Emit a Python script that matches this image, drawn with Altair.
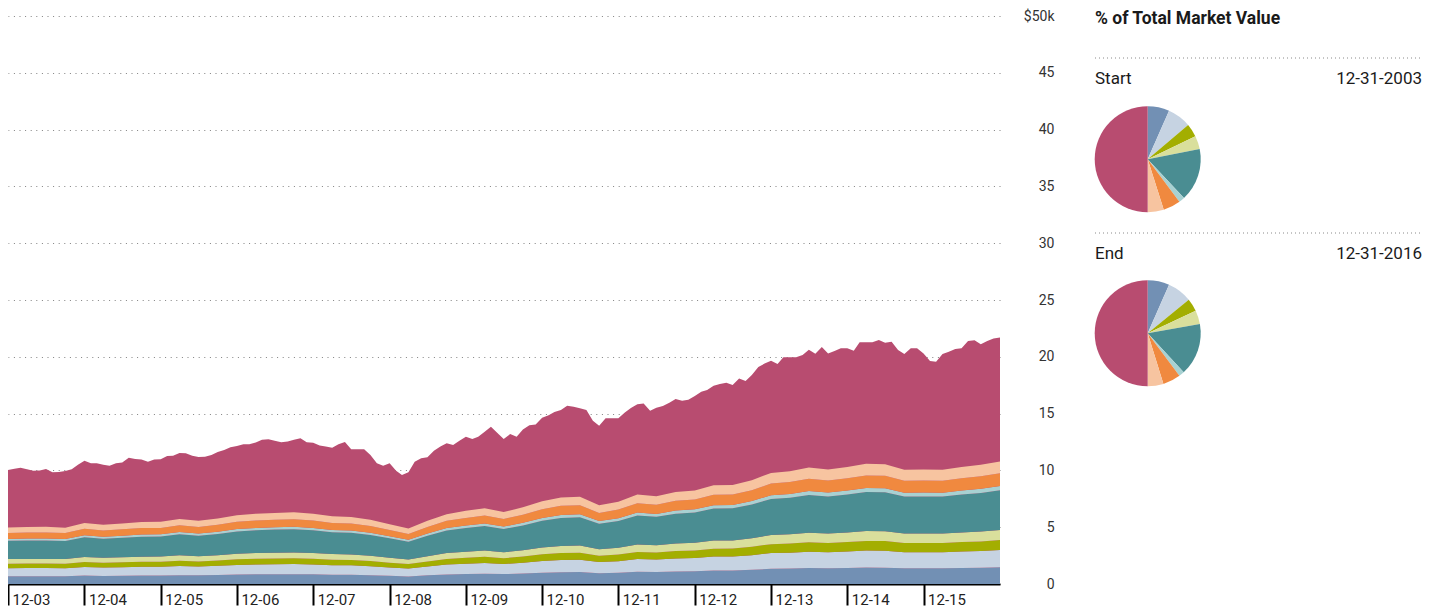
import altair as alt
import pandas as pd

# ---------------- data ----------------
SERIES = ["Asset 1", "Asset 2", "Asset 3", "Asset 4", "Asset 5",
          "Asset 6", "Asset 7", "Asset 8", "Asset 9"]
COLORS = ["#7290b4", "#c6d3e2", "#a3ae00", "#d9df9c", "#4a8d92",
          "#a8d1d2", "#f0893f", "#f7c4a0", "#b84c70"]

# total market value ($k), month ends 12-2003 .. 12-2016
TOTAL = [10.03, 10.15, 10.24, 10.1, 9.97, 10.0, 10.12, 9.83, 9.85, 9.95, 10.1, 10.5,
         10.85, 10.62, 10.62, 10.5, 10.42, 10.62, 10.7, 11.12, 11.0, 10.95, 10.77, 10.95,
         10.98, 11.27, 11.3, 11.53, 11.5, 11.3, 11.18, 11.2, 11.35, 11.62, 11.8, 12.03,
         12.15, 12.3, 12.3, 12.45, 12.7, 12.74, 12.6, 12.47, 12.55, 12.7, 12.83, 12.47,
         12.44, 12.2, 12.1, 12.0, 12.3, 12.5, 11.86, 11.86, 11.86, 11.36, 10.62, 10.42,
         10.62, 9.97, 9.6, 9.83, 10.77, 11.06, 11.15, 11.74, 12.1, 12.38, 12.23, 12.6,
         12.97, 12.76, 12.97, 13.4, 13.85, 13.3, 12.76, 13.2, 12.97, 13.6, 13.97, 14.03,
         14.64, 14.85, 15.14, 15.32, 15.7, 15.6, 15.46, 15.32, 14.38, 13.94, 14.58, 14.58,
         14.58, 15.1, 15.5, 15.82, 15.9, 15.26, 15.52, 15.67, 15.95, 16.28, 16.14, 16.23,
         16.55, 16.93, 17.08, 17.46, 17.6, 17.72, 17.52, 18.1, 17.87, 18.4, 19.1, 19.4,
         19.66, 19.37, 19.96, 19.96, 19.96, 20.16, 20.63, 20.27, 20.86, 20.3, 20.5, 20.75,
         20.75, 20.54, 21.28, 21.28, 21.28, 21.48, 21.24, 21.33, 20.6, 20.25, 20.75, 20.75,
         20.3, 19.63, 19.57, 20.25, 20.45, 20.69, 20.75, 21.39, 21.45, 21.1, 21.39, 21.6,
         21.7]

# lower holdings, quarter ends 12-2003 .. 12-2016
A1 = [.68, .69, .69, .68, .74, .71, .73, .74, .75, .78, .76, .79, .83, .85, .86, .86, .85, .82,
      .81, .77, .72, .67, .76, .84, .88, .91, .87, .92, 1.00, 1.04, 1.05, .95, .99, 1.08, 1.06,
      1.11, 1.13, 1.19, 1.19, 1.25, 1.34, 1.36, 1.40, 1.38, 1.41, 1.45, 1.44, 1.38, 1.38, 1.38,
      1.41, 1.43, 1.48]
A2 = [.70, .71, .71, .70, .76, .74, .75, .77, .77, .81, .78, .81, .85, .87, .88, .89, .87, .84,
      .83, .80, .74, .69, .78, .87, .91, .94, .89, .95, 1.02, 1.07, 1.08, .98, 1.02, 1.11, 1.09,
      1.14, 1.16, 1.22, 1.23, 1.29, 1.38, 1.40, 1.44, 1.42, 1.45, 1.49, 1.49, 1.42, 1.42, 1.42,
      1.45, 1.48, 1.52]
A3 = [.40, .40, .40, .40, .43, .42, .43, .44, .44, .46, .45, .46, .49, .50, .50, .51, .50, .48,
      .47, .45, .42, .39, .45, .50, .52, .54, .51, .54, .59, .61, .62, .56, .58, .63, .62, .65,
      .66, .70, .70, .74, .79, .80, .83, .81, .83, .85, .85, .81, .81, .81, .83, .84, .87]
A4 = [.41, .41, .41, .41, .44, .43, .44, .45, .45, .47, .46, .48, .50, .51, .52, .52, .51, .49,
      .49, .47, .44, .40, .46, .51, .53, .55, .52, .56, .60, .63, .63, .57, .60, .65, .64, .67,
      .68, .72, .72, .75, .81, .82, .85, .83, .85, .87, .87, .83, .83, .83, .85, .87, .89]
A5 = [1.61, 1.63, 1.63, 1.60, 1.75, 1.69, 1.72, 1.76, 1.77, 1.86, 1.80, 1.87, 1.96, 2.00, 2.03,
      2.04, 2.00, 1.93, 1.91, 1.83, 1.71, 1.58, 1.80, 1.99, 2.09, 2.16, 2.05, 2.19, 2.36, 2.47,
      2.49, 2.24, 2.35, 2.55, 2.50, 2.62, 2.66, 2.81, 2.82, 2.96, 3.17, 3.21, 3.32, 3.27, 3.34,
      3.43, 3.42, 3.26, 3.27, 3.26, 3.34, 3.40, 3.49]
A6 = [.17, .17, .17, .17, .18, .18, .18, .19, .19, .20, .19, .20, .21, .21, .21, .22, .21, .20,
      .20, .19, .18, .17, .19, .21, .22, .23, .22, .23, .25, .26, .26, .24, .25, .27, .26, .28,
      .28, .30, .30, .31, .33, .34, .35, .35, .35, .36, .36, .34, .35, .34, .35, .36, .37]
A7 = [.52, .53, .53, .52, .56, .55, .56, .57, .57, .60, .58, .60, .63, .65, .66, .66, .65, .62,
      .62, .59, .55, .51, .58, .64, .67, .70, .66, .71, .76, .80, .80, .72, .76, .82, .81, .85,
      .86, .91, .91, .96, 1.02, 1.04, 1.07, 1.06, 1.08, 1.11, 1.10, 1.05, 1.06, 1.05, 1.08, 1.10,
      1.13]
A8 = [.48, .48, .49, .48, .52, .50, .51, .53, .53, .55, .54, .56, .58, .60, .60, .61, .60, .58,
      .57, .55, .51, .47, .54, .59, .62, .64, .61, .65, .70, .74, .74, .67, .70, .76, .74, .78,
      .79, .84, .84, .88, .94, .96, .99, .97, 1.00, 1.02, 1.02, .97, .97, .97, 1.00, 1.01, 1.04]
LOWER = [A1, A2, A3, A4, A5, A6, A7, A8]

# pie shares (%)
START_SHARE = [6.6, 7.2, 4.0, 4.1, 16.1, 1.8, 5.3, 4.9, 50.0]
END_SHARE = [6.6, 7.5, 3.9, 4.2, 15.9, 1.7, 5.4, 4.8, 50.0]

TICK_YEARS = list(range(2003, 2016))
Y_TICKS = [0, 5, 10, 15, 20, 25, 30, 35, 40, 45, 50]
TITLE = "% of Total Market Value"
START_LABEL, START_DATE = "Start", "12-31-2003"
END_LABEL, END_DATE = "End", "12-31-2016"

FONT = "Roboto"

# ---------------- tables ----------------
def month_end(i):
    y = 2003 + (11 + i) // 12
    m = (11 + i) % 12 + 1
    return (pd.Timestamp(y, m, 1) + pd.offsets.MonthEnd(0)).strftime("%Y-%m-%dT00:00:00")

dates = [month_end(i) for i in range(len(TOTAL))]
qdates = dates[::3]

df_total = pd.DataFrame({"date": dates, "value": TOTAL, "series": SERIES[8]})
rows = []
for k, arr in enumerate(LOWER):
    for d, v in zip(qdates, arr):
        rows.append({"date": d, "value": v, "series": SERIES[k], "idx": k})
df_lower = pd.DataFrame(rows)

df_start = pd.DataFrame({"series": SERIES, "share": START_SHARE, "idx": list(range(9))})
df_end = pd.DataFrame({"series": SERIES, "share": END_SHARE, "idx": list(range(9))})

color = alt.Color("series:N", scale=alt.Scale(domain=SERIES, range=COLORS), legend=None)

x_axis = alt.Axis(
    values=[alt.DateTime(year=y, month=12, date=31) for y in TICK_YEARS],
    format="%m-%y", title=None, grid=False,
    domainColor="black", domainWidth=2,
    tickColor="black", tickWidth=2, tickSize=21,
    labelAlign="left", labelBaseline="middle", labelPadding=-6, labelOffset=4,
    labelFontSize=15, labelColor="#222", labelFont=FONT, labelFlush=False,
)
y_axis = alt.Axis(
    orient="right", values=Y_TICKS, title=None,
    labelExpr="datum.value == 50 ? '$50k' : datum.label",
    ticks=False, tickSize=0, domain=False,
    labelAlign="right", labelPadding=54, labelFontSize=14, labelColor="#333", labelFont=FONT,
    grid=True, gridColor="#808080", gridDash=[1, 4.6], gridWidth=1,
)

X = alt.X("date:T", axis=x_axis)

equity = alt.Chart(df_total).mark_area().encode(
    x=X,
    y=alt.Y("value:Q", scale=alt.Scale(domain=[0, 50], nice=False), axis=y_axis),
    color=color,
)
lower = alt.Chart(df_lower).mark_area().encode(
    x=alt.X("date:T"),
    y=alt.Y("value:Q", stack="zero"),
    color=color,
    order=alt.Order("idx:Q", sort="ascending"),
)

PIE_X = 1139.7
pie_start = alt.Chart(df_start).mark_arc(radius=53).encode(
    theta=alt.Theta("share:Q", stack=True),
    color=color, order=alt.Order("idx:Q", sort="ascending"),
    x=alt.value(PIE_X), y=alt.value(143.3),
)
pie_end = alt.Chart(df_end).mark_arc(radius=53).encode(
    theta=alt.Theta("share:Q", stack=True),
    color=color, order=alt.Order("idx:Q", sort="ascending"),
    x=alt.value(PIE_X), y=alt.value(317.3),
)

base = alt.Chart(pd.DataFrame({"a": [0]}))
def txt(s, x, y, align="left", size=17, weight="normal"):
    return base.mark_text(align=align, baseline="middle", fontSize=size, fontWeight=weight,
                          font=FONT, color="#1a1a1a").encode(
        x=alt.value(x), y=alt.value(y), text=alt.value(s))

def dotted(y):
    return base.mark_rule(color="#8a8a8a", strokeDash=[1, 3], strokeWidth=1).encode(
        x=alt.value(1087), x2=alt.value(1415), y=alt.value(y))

texts = (txt(TITLE, 1087, 3, size=17.5, weight="bold")
         + txt(START_LABEL, 1087, 63) + txt(START_DATE, 1414, 63, align="right")
         + txt(END_LABEL, 1087, 238) + txt(END_DATE, 1414, 238, align="right"))

chart = alt.layer(
    equity, lower, pie_start, pie_end, dotted(42), dotted(217), texts
).properties(
    width=992, height=568,
    background="white",
    autosize=alt.AutoSizeParams(type="none"),
    padding={"left": 0, "top": 8, "right": 423, "bottom": 26},
).configure_view(strokeWidth=0)

chart.save("out.html", embed_options={"renderer": "svg", "actions": False})
